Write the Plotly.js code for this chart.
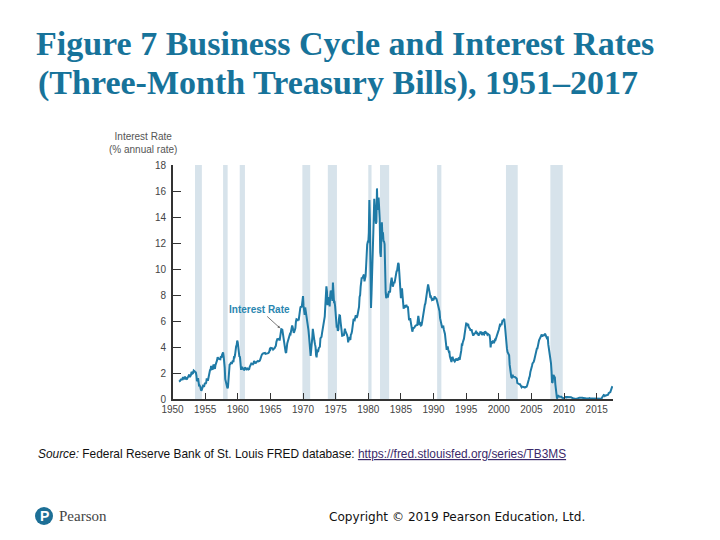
<!DOCTYPE html>
<html>
<head>
<meta charset="utf-8">
<script src="https://cdn.plot.ly/plotly-3.0.1.min.js"></script>
<style>html,body{margin:0;padding:0;background:#fff;}#chart{width:720px;height:540px;}</style>
</head>
<body>
<div id="chart"></div>
<script>
// Three-month Treasury bill rate, monthly, % annual rate (first year 1951)
var startYear = 1951;
var rates1950s = [
  1.34,1.36,1.40,1.47,1.55,1.45,1.57,1.63,1.63,1.56,1.61,1.73,
  1.57,1.54,1.59,1.57,1.67,1.70,1.82,1.87,1.69,1.74,1.85,2.09,
  1.96,1.97,2.01,2.19,2.16,2.11,2.04,2.04,1.79,1.38,1.44,1.60,
  1.18,0.97,1.03,0.96,0.76,0.64,0.72,0.92,1.01,0.98,0.93,1.14,
  1.23,1.17,1.28,1.59,1.45,1.41,1.60,1.90,2.07,2.23,2.24,2.54,
  2.41,2.32,2.25,2.60,2.61,2.49,2.31,2.60,2.84,2.90,2.99,3.21,
  3.11,3.10,3.08,3.06,3.06,3.29,3.16,3.38,3.58,3.58,3.29,3.04,
  2.44,1.53,1.30,1.13,0.91,0.83,0.91,1.69,2.44,2.63,2.67,2.77,
  2.82,2.70,2.80,2.95,2.84,3.21,3.20,3.38,4.04,4.05,4.15,4.49
];
var rates1960s = [
  4.35,3.96,3.31,3.23,3.29,2.46,2.30,2.30,2.48,2.30,2.37,2.25,
  2.24,2.42,2.39,2.29,2.29,2.33,2.24,2.39,2.28,2.30,2.48,2.60,
  2.72,2.73,2.72,2.73,2.68,2.73,2.92,2.82,2.78,2.74,2.83,2.87,
  2.91,2.92,2.89,2.90,2.92,2.99,3.18,3.32,3.38,3.45,3.52,3.52,
  3.52,3.53,3.54,3.47,3.48,3.48,3.46,3.50,3.53,3.57,3.64,3.84,
  3.81,3.93,3.93,3.93,3.89,3.80,3.84,3.84,3.92,4.03,4.09,4.38,
  4.59,4.65,4.59,4.62,4.64,4.50,4.80,4.96,5.37,5.35,5.32,4.96,
  4.72,4.56,4.26,3.84,3.60,3.54,4.21,4.27,4.42,4.56,4.73,4.97,
  5.00,4.98,5.17,5.38,5.66,5.52,5.31,5.09,5.19,5.35,5.45,5.96,
  6.14,6.12,6.02,6.11,6.04,6.44,7.00,7.01,7.13,7.04,7.19,7.72
];
var rates1970s = [
  7.91,7.16,6.71,6.48,7.04,6.74,6.50,6.41,6.24,5.93,5.29,4.86,
  4.49,3.77,3.32,3.78,4.14,4.70,5.40,4.94,4.69,4.46,4.22,4.01,
  3.38,3.20,3.73,3.71,3.69,3.91,3.98,4.02,4.66,4.74,4.78,5.07,
  5.41,5.60,6.09,6.26,6.36,7.19,8.01,8.67,8.29,7.22,7.83,7.45,
  7.77,7.12,7.96,8.33,8.23,7.90,7.55,8.96,8.06,7.46,7.47,7.15,
  6.26,5.50,5.49,5.61,5.23,5.34,6.13,6.44,6.42,5.96,5.48,5.44,
  4.87,4.88,5.00,4.86,5.20,5.41,5.23,5.14,5.08,4.92,4.75,4.35,
  4.62,4.67,4.60,4.54,4.96,5.02,5.19,5.49,5.81,6.16,6.10,6.07,
  6.44,6.45,6.29,6.29,6.41,6.73,7.01,7.08,7.85,7.99,8.64,9.08,
  9.35,9.27,9.46,9.49,9.58,9.05,9.26,9.45,10.18,11.47,11.87,12.07
];
var rates1980s = [
  12.04,12.81,15.30,13.80,9.15,7.00,8.13,9.26,10.32,11.58,13.89,15.40,
  14.72,14.90,13.48,13.63,16.20,14.56,14.70,15.50,14.95,13.87,11.27,10.93,
  12.41,13.60,12.49,12.82,12.15,12.11,11.91,9.01,8.20,7.75,8.04,8.01,
  7.81,8.13,8.30,8.25,8.19,8.79,9.08,9.34,9.00,8.64,8.76,9.00,
  8.90,9.09,9.52,9.69,9.83,9.87,10.12,10.47,10.37,9.74,8.61,8.06,
  7.76,8.27,8.52,7.95,7.48,6.95,7.08,7.14,7.10,7.16,7.24,7.10,
  7.07,7.06,6.56,6.06,6.15,6.21,5.83,5.53,5.21,5.18,5.35,5.53,
  5.43,5.59,5.59,5.64,5.66,5.67,5.69,6.04,6.40,6.13,5.69,5.77,
  5.81,5.66,5.70,5.91,6.26,6.46,6.73,7.06,7.24,7.35,7.76,8.07,
  8.27,8.53,8.82,8.65,8.43,8.15,7.88,7.90,7.75,7.64,7.69,7.63
];
var rates1990s = [
  7.64,7.74,7.90,7.77,7.74,7.73,7.62,7.45,7.36,7.17,7.06,6.74,
  6.22,5.94,5.91,5.65,5.46,5.57,5.58,5.33,5.22,5.00,4.60,4.12,
  3.84,3.84,4.05,3.81,3.66,3.70,3.28,3.14,2.97,2.84,3.14,3.25,
  3.06,2.95,2.97,2.89,2.96,3.10,3.05,3.05,2.96,3.04,3.12,3.08,
  3.02,3.21,3.52,3.74,4.19,4.18,4.39,4.50,4.64,4.96,5.25,5.64,
  5.81,5.80,5.73,5.67,5.70,5.50,5.47,5.41,5.26,5.30,5.35,5.16,
  5.02,4.87,4.96,4.99,5.02,5.11,5.17,5.09,5.15,5.01,5.03,4.87,
  5.05,5.00,5.14,5.17,5.13,4.92,5.07,5.13,4.97,4.95,5.15,5.16,
  5.04,5.09,5.03,4.95,5.00,4.98,4.96,4.90,4.61,3.96,4.41,4.39,
  4.34,4.44,4.44,4.29,4.50,4.57,4.55,4.72,4.68,4.86,5.07,5.20
];
var rates2000s = [
  5.32,5.55,5.69,5.66,5.79,5.69,5.96,6.09,6.00,6.11,6.17,5.77,
  5.15,4.88,4.42,3.87,3.62,3.49,3.51,3.36,2.64,2.16,1.87,1.69,
  1.65,1.73,1.79,1.72,1.73,1.70,1.68,1.62,1.63,1.58,1.23,1.19,
  1.17,1.17,1.13,1.13,1.07,0.92,0.90,0.95,0.94,0.92,0.93,0.90,
  0.88,0.93,0.94,0.94,1.02,1.27,1.33,1.48,1.65,1.76,2.07,2.19,
  2.33,2.54,2.74,2.78,2.84,2.97,3.22,3.44,3.42,3.71,3.88,3.89,
  4.24,4.43,4.51,4.60,4.72,4.79,4.95,4.96,4.81,4.92,4.94,4.85,
  4.98,5.03,4.94,4.87,4.73,4.61,4.82,4.20,3.89,3.90,3.27,3.00,
  2.75,2.12,1.26,1.29,1.73,1.86,1.63,1.72,1.13,0.67,0.19,0.03,
  0.13,0.30,0.22,0.16,0.18,0.18,0.18,0.17,0.12,0.07,0.05,0.05
];
var rates2010s = [
  0.06,0.11,0.15,0.16,0.16,0.12,0.16,0.16,0.15,0.13,0.14,0.14,
  0.15,0.13,0.10,0.06,0.04,0.04,0.04,0.02,0.01,0.02,0.01,0.01,
  0.03,0.09,0.08,0.08,0.09,0.09,0.10,0.10,0.11,0.10,0.09,0.07,
  0.07,0.10,0.09,0.06,0.04,0.05,0.04,0.04,0.02,0.05,0.07,0.07,
  0.04,0.05,0.05,0.03,0.03,0.04,0.03,0.03,0.02,0.02,0.02,0.03,
  0.03,0.02,0.03,0.02,0.02,0.02,0.03,0.07,0.02,0.02,0.12,0.23,
  0.26,0.31,0.29,0.23,0.27,0.27,0.30,0.30,0.29,0.33,0.45,0.51,
  0.51,0.52,0.74,0.80,0.89,0.98
];
// Recession periods (decimal years, as shaded in the figure)
var recessionStart = [1953.45, 1957.75, 1960.30, 1969.90, 1973.80, 1980.00, 1981.80, 1990.55, 2001.10, 2007.90];
var recessionEnd   = [1954.50, 1958.45, 1961.10, 1971.10, 1975.20, 1980.50, 1983.20, 1991.20, 2002.90, 2009.80];
var xTickYears = [1950,1955,1960,1965,1970,1975,1980,1985,1990,1995,2000,2005,2010,2015];
var yTicks = [0,2,4,6,8,10,12,14,16,18];
var titleLine1 = 'Figure 7 Business Cycle and Interest Rates';
var titleLine2 = '(Three-Month Treasury Bills), 1951\u20132017';

var rates = [].concat(rates1950s, rates1960s, rates1970s, rates1980s, rates1990s, rates2000s, rates2010s);
var xs = rates.map(function(v, i){ return startYear + i / 12; });

var shapes = recessionStart.map(function(s, i){
  return {type:'rect', xref:'x', yref:'y', x0:s, x1:recessionEnd[i], y0:0, y1:18,
          fillcolor:'#d7e3eb', line:{width:0}, layer:'below'};
});

var trace = {x: xs, y: rates, type:'scatter', mode:'lines',
  line:{color:'#1f7aa6', width:2}, hoverinfo:'skip', showlegend:false};

var tickFont = {family:'Liberation Sans, Arial, sans-serif', size:10, color:'#444'};
var titleFont = {family:'Liberation Serif, Times New Roman, serif', size:34, color:'#17739a', weight:'bold'};

var layout = {
  width:720, height:540, autosize:false,
  margin:{l:0,r:0,t:0,b:0},
  paper_bgcolor:'#fff', plot_bgcolor:'rgba(0,0,0,0)',
  showlegend:false,
  title:{text:titleLine1, font:titleFont,
    x:36/720, xanchor:'left', xref:'paper', y:1-43/540, yanchor:'middle', yref:'paper'},
  xaxis:{domain:[172.5/720, 613/720], range:[1950, 2017.5], tickmode:'array', tickvals:xTickYears,
    ticks:'inside', ticklen:6, tickcolor:'#333', tickwidth:1, showline:true, linecolor:'#333', linewidth:1.5,
    showgrid:false, zeroline:false, tickfont:tickFont, fixedrange:true},
  yaxis:{domain:[(540-399)/540, (540-165)/540], range:[0,18], tickmode:'array', tickvals:yTicks,
    ticks:'inside', ticklen:8, tickcolor:'#333', tickwidth:1, showline:true, linecolor:'#333', linewidth:1.5,
    showgrid:false, zeroline:false, tickfont:tickFont, ticklabelstandoff:3, fixedrange:true},
  shapes: shapes.concat([
    {type:'circle', xref:'paper', yref:'paper', x0:35/720, x1:53/720, y0:(540-525)/540, y1:(540-507)/540,
     fillcolor:'#1d6f96', line:{width:0}}
  ]),
  annotations:[
    {text:titleLine2, xref:'paper', yref:'paper', x:36/720, y:1-83/540, xanchor:'left', yanchor:'middle',
     showarrow:false, font:titleFont},
    {text:'Interest Rate<br>(% annual rate)', xref:'paper', yref:'paper', x:143/720, y:(540-143)/540,
     xanchor:'center', yanchor:'middle', showarrow:false, align:'center',
     font:{family:'Liberation Sans, Arial, sans-serif', size:10, color:'#555'}},
    {text:'Interest Rate', xref:'x', yref:'y', x:1966.7, y:5.35, ax:-22, ay:-20, axref:'pixel', ayref:'pixel',
     showarrow:true, arrowhead:2, arrowsize:0.6, arrowwidth:0.8, arrowcolor:'#555', standoff:2,
     font:{family:'Liberation Sans, Arial, sans-serif', size:10, color:'#2a86b0', weight:'bold'}},
    {text:'<i>Source:</i> Federal Reserve Bank of St. Louis FRED database: <span style="color:#3b2a6a;text-decoration:underline">https://fred.stlouisfed.org/series/TB3MS</span>',
     xref:'paper', yref:'paper', x:36/720, y:(540-454)/540, xanchor:'left', yanchor:'middle', showarrow:false,
     font:{family:'Liberation Sans, Arial, sans-serif', size:11.9, color:'#111'}},
    {text:'Copyright \u00a9 2019 Pearson Education, Ltd.', xref:'paper', yref:'paper', x:327/720, y:(540-517)/540,
     xanchor:'left', yanchor:'middle', showarrow:false,
     font:{family:'DejaVu Sans, Verdana, sans-serif', size:12.1, color:'#111'}},
    {text:'P', xref:'paper', yref:'paper', x:44.3/720, y:(540-516)/540, xanchor:'center', yanchor:'middle', showarrow:false,
     font:{family:'Liberation Sans, Arial, sans-serif', size:14, color:'#fff', weight:'bold'}},
    {text:'Pearson', xref:'paper', yref:'paper', x:57/720, y:(540-516)/540, xanchor:'left', yanchor:'middle', showarrow:false,
     font:{family:'Liberation Serif, Times New Roman, serif', size:15, color:'#444'}}
  ]
};

Plotly.newPlot('chart', [trace], layout, {staticPlot:true, displayModeBar:false});
</script>
</body>
</html>
